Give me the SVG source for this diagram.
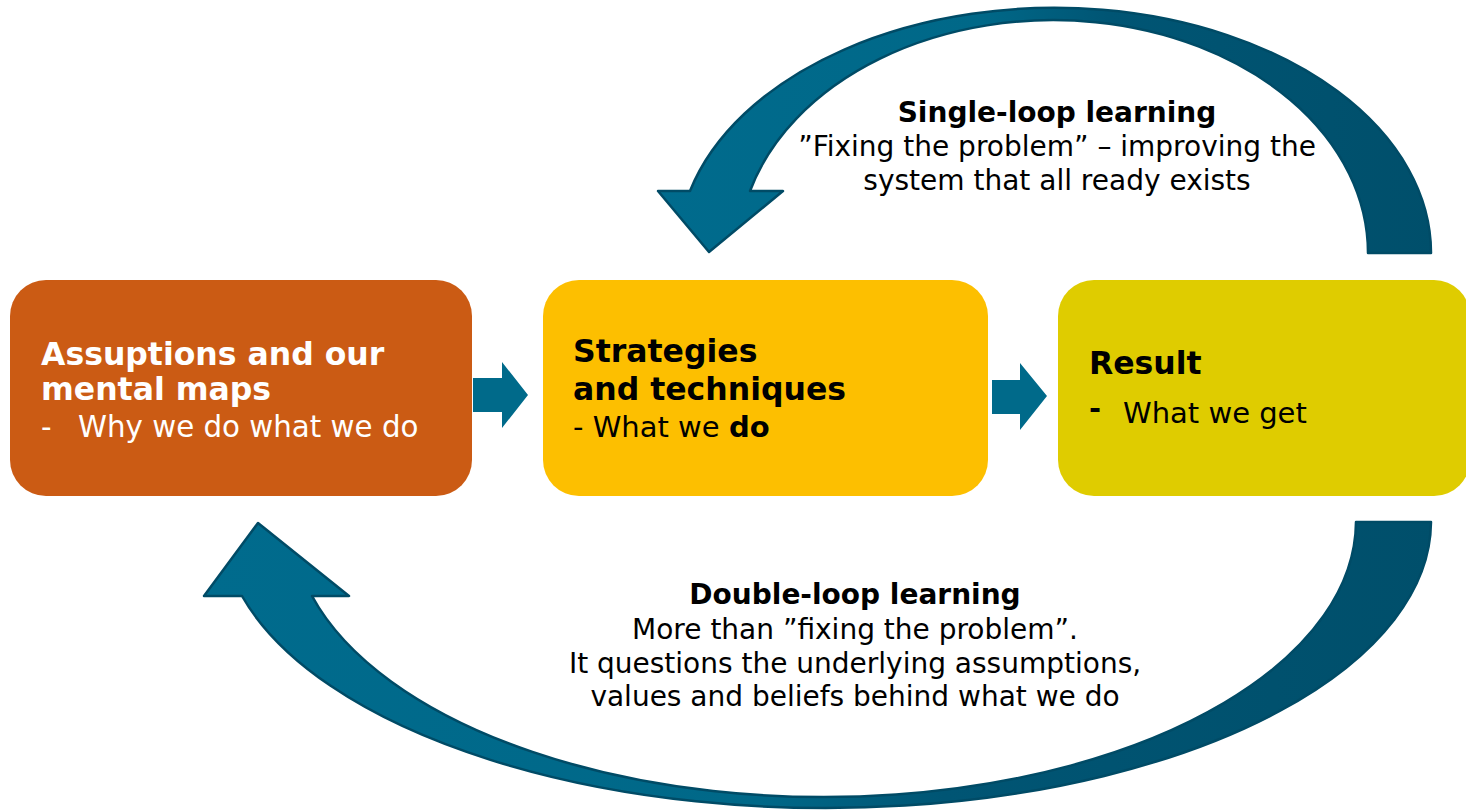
<svg xmlns="http://www.w3.org/2000/svg" width="1466" height="811" viewBox="0 0 1466 811">
<style>
.bold{font-family:"DejaVu Sans","Liberation Sans",sans-serif;font-weight:bold}
.reg{font-family:"DejaVu Sans","Liberation Sans",sans-serif}
.loop{stroke:#004B66;stroke-width:2.5;stroke-linejoin:round}
.blk{fill:#006A8A}
</style>
<defs>
<linearGradient id="gTop" gradientUnits="userSpaceOnUse" x1="650" y1="0" x2="1440" y2="0">
<stop offset="0" stop-color="#006B8D"/><stop offset="0.42" stop-color="#006888"/><stop offset="0.58" stop-color="#005574"/><stop offset="1" stop-color="#004F6B"/>
</linearGradient>
<linearGradient id="gBot" gradientUnits="userSpaceOnUse" x1="200" y1="0" x2="1440" y2="0">
<stop offset="0" stop-color="#006B8D"/><stop offset="0.45" stop-color="#006888"/><stop offset="0.6" stop-color="#005574"/><stop offset="1" stop-color="#004F6B"/>
</linearGradient>
</defs>
<rect width="1466" height="811" fill="#FFFFFF"/>
<g id="connectors">
<path class="loop" fill="url(#gTop)" d="M 1431 253 A 376.6 245 0 0 0 690 191 L 658 191 L 709 252 L 783 191 L 750 191 A 314.7 233 0 0 1 1368 253 Z"/>
<path class="loop" fill="url(#gBot)" d="M 1431 522 A 605 287 0 0 1 242 596 L 204 596 L 258 523 L 349 596 L 312 596 A 532 276 0 0 0 1356 522 Z"/>
<polygon class="blk" points="473,378 502,378 502,362 528,395 502,428 502,412 473,412"/>
<polygon class="blk" points="992,380 1020,380 1020,363 1047,396 1020,430 1020,414 992,414"/>
</g>
<g id="label-single" text-anchor="middle" font-size="28">
<text class="bold" x="1057" y="122">Single-loop learning</text>
<text class="reg" x="1057" y="156">”Fixing the problem” – improving the</text>
<text class="reg" x="1057" y="190">system that all ready exists</text>
</g>
<g id="label-double" text-anchor="middle" font-size="28">
<text class="bold" x="855" y="604">Double-loop learning</text>
<text class="reg" x="855" y="639">More than ”fixing the problem”.</text>
<text class="reg" x="855" y="673">It questions the underlying assumptions,</text>
<text class="reg" x="855" y="706">values and beliefs behind what we do</text>
</g>
<g id="node-assumptions">
<rect x="10" y="280" width="462" height="216" rx="36" fill="#CB5B14"/>
<text class="bold" x="41" y="365" font-size="31.5" fill="#FFFFFF">Assuptions and our</text>
<text class="bold" x="41" y="400" font-size="31.5" fill="#FFFFFF">mental maps</text>
<text class="reg" x="41" y="437" font-size="29.3" fill="#FFFFFF">-<tspan x="78">Why we do what we do</tspan></text>
</g>
<g id="node-strategies">
<rect x="543" y="280" width="445" height="216" rx="36" fill="#FDBF00"/>
<text class="bold" x="573" y="362" font-size="31.5" fill="#000000">Strategies</text>
<text class="bold" x="573" y="400" font-size="31.5" fill="#000000">and techniques</text>
<text class="reg" x="573" y="437" font-size="29" fill="#000000">- What we <tspan class="bold">do</tspan></text>
</g>
<g id="node-result">
<rect x="1058" y="280" width="412" height="216" rx="36" fill="#DFCC00"/>
<text class="bold" x="1089" y="374" font-size="31.5" fill="#000000">Result</text>
<text class="bold" x="1089" y="418" font-size="29" fill="#000000">-</text>
<text class="reg" x="1123" y="423" font-size="29" fill="#000000">What we get</text>
</g>
</svg>
